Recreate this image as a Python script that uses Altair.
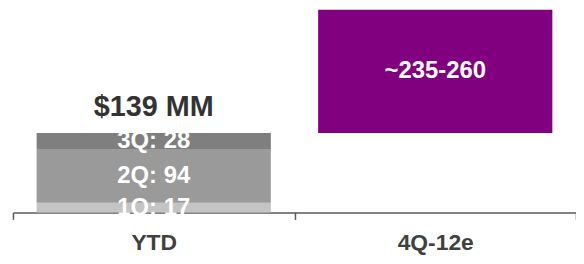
import altair as alt
import pandas as pd

# ---- data ----
quarters = ["1Q", "2Q", "3Q"]
ytd_values = [17, 94, 28]
quarter_colors = ["#c4c4c4", "#9a9a9a", "#7f7f7f"]
categories = ["YTD", "4Q-12e"]
ytd_total_label = "$139 MM"
forecast_start = 139
forecast_end = 354
forecast_label = "~235-260"
forecast_color = "#800080"

rows = []
acc = 0
for q, v, c in zip(quarters, ytd_values, quarter_colors):
    rows.append({"cat": "YTD", "y0": acc, "y1": acc + v, "color": c,
                 "label": f"{q}: {v}", "mid": acc + v / 2})
    acc += v
rows.append({"cat": "4Q-12e", "y0": forecast_start, "y1": forecast_end,
             "color": forecast_color, "label": forecast_label,
             "mid": (forecast_start + forecast_end) / 2})
df = pd.DataFrame(rows)
total_df = pd.DataFrame({"cat": ["YTD"], "y": [acc], "label": [ytd_total_label]})

FONT = "Liberation Sans"

x_scale = alt.Scale(paddingInner=0, paddingOuter=0)
x_enc = alt.X("cat:N", sort=categories, scale=x_scale,
              axis=alt.Axis(title=None, labelAngle=0, labelFontSize=23,
                            labelFontWeight="bold", labelColor="#404040",
                            labelFont=FONT, domainColor="#5a5a5a",
                            domainWidth=1.5, tickColor="#5a5a5a", tickWidth=1.5,
                            tickSize=7, tickBand="extent", labelPadding=12,
                            grid=False))
y_scale = alt.Scale(domain=[0, forecast_end], nice=False, zero=True)

bars = alt.Chart(df).mark_bar(width={"band": 0.832}).encode(
    x=x_enc,
    y=alt.Y("y0:Q", scale=y_scale, axis=None),
    y2="y1:Q",
    color=alt.Color("color:N", scale=None),
)

seg_text = alt.Chart(df).mark_text(
    color="white", fontSize=24, fontWeight="bold", font=FONT,
    baseline="middle", dy=0
).encode(
    x=alt.X("cat:N", sort=categories, scale=x_scale),
    y=alt.Y("mid:Q", scale=y_scale),
    text="label:N",
)

total_text = alt.Chart(total_df).mark_text(
    color="#333333", fontSize=29, fontWeight="bold", font=FONT,
    baseline="alphabetic", dy=-17
).encode(
    x=alt.X("cat:N", sort=categories, scale=x_scale),
    y=alt.Y("y:Q", scale=y_scale),
    text="label:N",
)

chart = alt.layer(bars, seg_text, total_text).properties(
    width=567, height=204,
    autosize=alt.AutoSizeParams(type="none"),
    padding={"left": 5, "top": 1, "right": 0, "bottom": 43},
).configure_view(stroke=None)

chart.save("out.html", embed_options={"renderer": "svg", "actions": False})
